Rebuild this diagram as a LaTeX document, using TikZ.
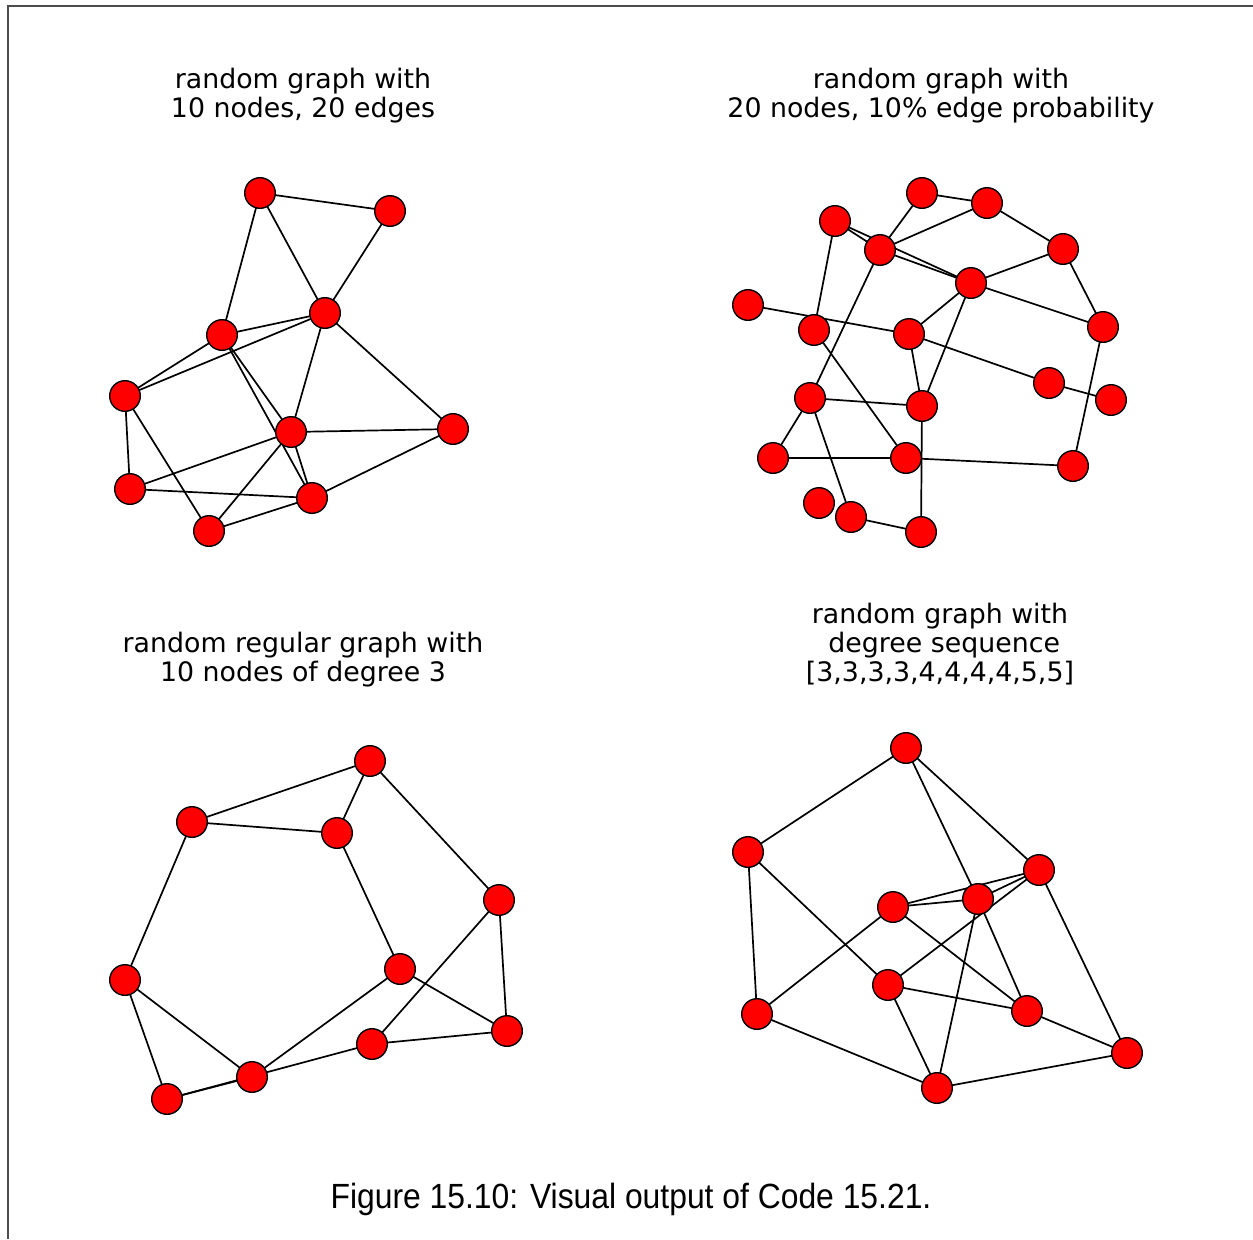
\documentclass[tikz,border=0pt]{standalone}
\usepackage{fontspec}
\setmainfont{DejaVu Sans}
\newfontfamily\captionfont{Liberation Sans}
\usetikzlibrary{backgrounds}

\begin{document}
\begin{tikzpicture}[x=0.5pt, y=-0.5pt,
        vertex/.style={circle, draw=black, line width=0.7pt, fill=red, minimum size=15.3pt, inner sep=0pt},
        edge/.style={line width=0.85pt},
        heading/.style={align=center, inner sep=0pt, anchor=base, font=\fontsize{13.4}{14.4}\selectfont}]
        \useasboundingbox (0,0) rectangle (1253,1239);
        \draw[black!70, line width=0.6pt] (1253,6) -- (8,6) -- (8,1239);

        \node[heading] (title1) at (303,117) {random graph with\\10 nodes, 20 edges};
        \node[heading] (title2) at (941,117) {random graph with\\20 nodes, 10\% edge probability};
        \node[heading] (title3) at (303,681) {random regular graph with\\10 nodes of degree 3};
        \node[heading] (title4) at (940,681) {random graph with\\\ degree sequence\\{}[3,3,3,3,4,4,4,4,5,5]};

        \node[vertex] (a0) at (260,193) {};
        \node[vertex] (a1) at (390,211) {};
        \node[vertex] (a2) at (325,313) {};
        \node[vertex] (a3) at (222,335) {};
        \node[vertex] (a4) at (125,396) {};
        \node[vertex] (a5) at (291,432) {};
        \node[vertex] (a6) at (453,429) {};
        \node[vertex] (a7) at (130,489) {};
        \node[vertex] (a8) at (312,498) {};
        \node[vertex] (a9) at (209,531) {};

        \node[vertex] (b1) at (922,193) {};
        \node[vertex] (b2) at (987,203) {};
        \node[vertex] (b3) at (835,221) {};
        \node[vertex] (b4) at (880,250) {};
        \node[vertex] (b5) at (1063,249) {};
        \node[vertex] (b6) at (971,283) {};
        \node[vertex] (b7) at (748,305) {};
        \node[vertex] (b8) at (814,330) {};
        \node[vertex] (b9) at (909,334) {};
        \node[vertex] (b10) at (1103,327) {};
        \node[vertex] (b11) at (1049,383) {};
        \node[vertex] (b12) at (1111,400) {};
        \node[vertex] (b13) at (810,398) {};
        \node[vertex] (b14) at (922,406) {};
        \node[vertex] (b15) at (773,458) {};
        \node[vertex] (b16) at (906,458) {};
        \node[vertex] (b17) at (1073,466) {};
        \node[vertex] (b18) at (819,503) {};
        \node[vertex] (b19) at (851,517) {};
        \node[vertex] (b20) at (921,532) {};

        \node[vertex] (c1) at (370,761) {};
        \node[vertex] (c2) at (192,822) {};
        \node[vertex] (c3) at (337,833) {};
        \node[vertex] (c4) at (499,900) {};
        \node[vertex] (c5) at (125,980) {};
        \node[vertex] (c6) at (400,969) {};
        \node[vertex] (c7) at (507,1031) {};
        \node[vertex] (c8) at (372,1044) {};
        \node[vertex] (c9) at (252,1077) {};
        \node[vertex] (c10) at (167,1099) {};

        \node[vertex] (d1) at (906,748) {};
        \node[vertex] (d2) at (748,852) {};
        \node[vertex] (d3) at (1039,870) {};
        \node[vertex] (d4) at (893,907) {};
        \node[vertex] (d5) at (978,899) {};
        \node[vertex] (d6) at (888,985) {};
        \node[vertex] (d7) at (757,1014) {};
        \node[vertex] (d8) at (1027,1011) {};
        \node[vertex] (d9) at (1127,1053) {};
        \node[vertex] (d10) at (937,1088) {};

        \begin{scope}[on background layer]
            \foreach \u/\v in {a0/a1, a0/a3, a0/a2, a1/a2, a3/a2, a4/a3, a4/a2, a2/a5, a2/a6, a5/a6,
                    a3/a5, a3/a8, a5/a8, a5/a7, a5/a9, a4/a7, a4/a9, a7/a8, a8/a6, a9/a8}
                \draw[edge] (\u.center) -- (\v.center);
            \foreach \u/\v in {b1/b2, b1/b4, b4/b2, b2/b5, b3/b4, b3/b6, b4/b6, b3/b8, b5/b6, b5/b10,
                    b6/b10, b6/b9, b6/b14, b4/b13, b7/b9, b8/b16, b9/b14, b9/b11, b11/b12, b10/b17,
                    b13/b14, b13/b15, b13/b19, b15/b16, b16/b17, b14/b20, b19/b20}
                \draw[edge] (\u.center) -- (\v.center);
            \foreach \u/\v in {c1/c2, c1/c3, c1/c4, c2/c3, c2/c5, c3/c6, c4/c7, c4/c8, c5/c9, c5/c10,
                    c6/c9, c6/c7, c7/c8, c10/c9, c10/c8}
                \draw[edge] (\u.center) -- (\v.center);
            \foreach \u/\v in {d1/d2, d1/d5, d1/d3, d2/d7, d2/d6, d4/d5, d4/d3, d5/d3, d6/d3, d3/d9,
                    d4/d7, d4/d8, d5/d8, d5/d10, d6/d8, d6/d10, d7/d10, d8/d9, d9/d10}
                \draw[edge] (\u.center) -- (\v.center);
        \end{scope}

        \node[anchor=base, inner sep=0pt, xscale=0.91, font=\captionfont\fontsize{17.5}{21}\selectfont] (caption) at (631,1208) {Figure 15.10: Visual output of Code 15.21.};
    \end{tikzpicture}
\end{document}
